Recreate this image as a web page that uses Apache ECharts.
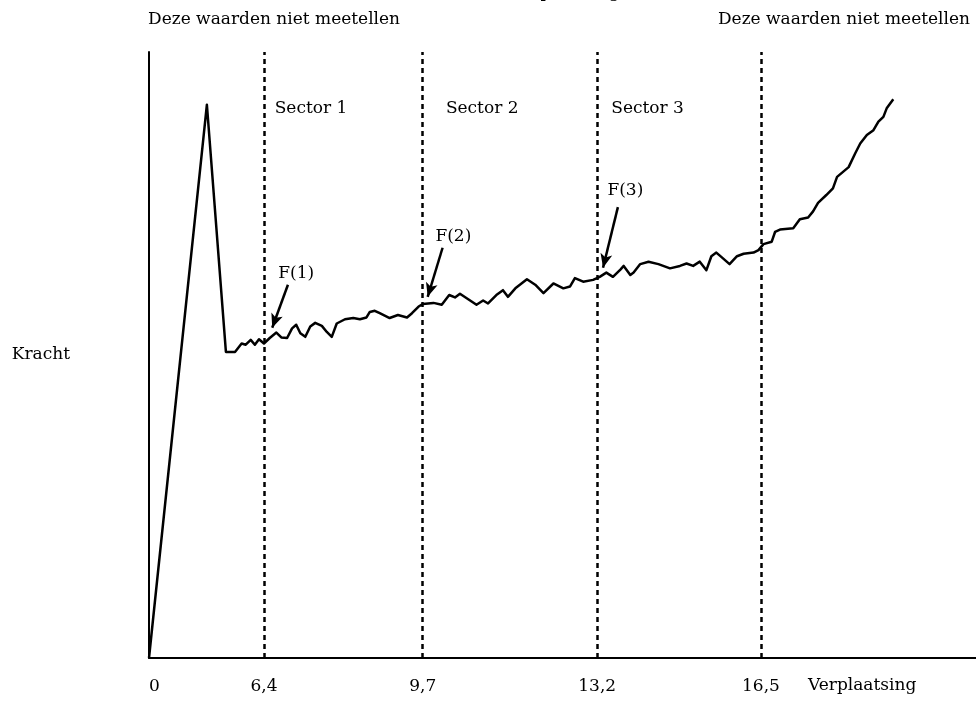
<!DOCTYPE html>
<html>
<head>
<meta charset="utf-8">
<script src="https://cdn.jsdelivr.net/npm/echarts@6/dist/echarts.min.js"></script>
<style>
  html, body { margin: 0; padding: 0; background: #fff; }
  #chart { width: 976px; height: 701px; }
</style>
</head>
<body>
<div id="chart"></div>
<script>
// schematic units: x 0..100 (not to scale), y 0..100
const dispX = [0, 7.0, 9.3, 10.4, 11.2, 11.7, 12.3, 12.8, 13.3, 13.9, 14.6, 15.4, 16.0, 16.7, 17.3, 17.8, 18.3, 18.9, 19.5, 20.1,
  20.9, 21.5, 22.1, 22.7, 23.7, 24.7, 25.5, 26.3, 26.7, 27.3, 27.9, 29.1, 30.1, 31.2, 31.8, 32.6, 33.1, 34.4, 35.4, 36.3,
  37.0, 37.6, 38.6, 39.6, 40.4, 41.0, 42.0, 42.8, 43.4, 44.3, 45.7, 46.7, 47.7, 48.9, 50.1, 50.9, 51.5, 52.5, 53.7, 54.5,
  55.3, 56.1, 57.0, 57.4, 58.2, 58.6, 59.4, 60.4, 61.6, 63.0, 64.2, 65.0, 65.8, 66.6, 67.4, 68.0, 68.6, 69.2, 70.2, 71.1,
  71.9, 73.1, 73.7, 74.3, 75.3, 75.7, 76.3, 77.9, 78.7, 79.7, 80.3, 80.9, 81.9, 82.7, 83.2, 84.6, 85.4, 86.0, 86.8, 87.6,
  88.2, 88.8, 89.2, 90.0];
const kracht = [0, 91.3, 50.5, 50.5, 51.9, 51.7, 52.5, 51.7, 52.6, 51.9, 52.8, 53.7, 52.9, 52.8, 54.4, 55.0, 53.6, 53.0, 54.7, 55.3,
  54.8, 53.8, 53.0, 55.2, 55.9, 56.1, 55.9, 56.2, 57.1, 57.3, 56.9, 56.1, 56.6, 56.2, 56.9, 58.0, 58.4, 58.6, 58.3, 59.9,
  59.5, 60.1, 59.2, 58.3, 59.0, 58.5, 59.9, 60.7, 59.6, 61.0, 62.5, 61.6, 60.2, 61.8, 61.0, 61.3, 62.7, 62.1, 62.4, 62.9,
  63.6, 62.9, 64.1, 64.7, 63.2, 63.6, 65.0, 65.4, 65.0, 64.3, 64.7, 65.1, 64.7, 65.4, 64.0, 66.3, 66.9, 66.2, 65.0, 66.3,
  66.7, 66.9, 67.3, 68.3, 68.7, 70.3, 70.7, 70.9, 72.4, 72.7, 73.7, 75.1, 76.4, 77.5, 79.4, 81.0, 83.3, 84.9, 86.3, 87.1,
  88.5, 89.3, 90.7, 92.2];

const tickPos = [0, 13.9, 33.1, 54.2, 74.0];
const tickLabels = ['0', '6,4', '9,7', '13,2', '16,5'];
const sectorLines = [13.9, 33.1, 54.2, 74.0];
const sectorNames = ['Sector 1', 'Sector 2', 'Sector 3'];
const sectorLabelAt = [[15.2, 90.6], [35.9, 90.6], [55.9, 90.6]];
const forceNames = ['F(1)', 'F(2)', 'F(3)'];
const forceLabelAt = [[17.8, 63.5], [36.8, 69.6], [57.6, 77.1]];
const arrowFrom = [[16.8, 61.6], [35.5, 67.7], [56.7, 74.4]];
const arrowTo = [[14.9, 54.5], [33.7, 59.6], [54.9, 64.4]];

const FONT = 'DejaVu Serif';
const chart = echarts.init(document.getElementById('chart'));

const textLabel = {
  show: true,
  formatter: '{b}',
  fontFamily: FONT,
  fontSize: 17,
  color: '#000',
};

chart.setOption({
  animation: false,
  backgroundColor: '#fff',
  textStyle: { fontFamily: FONT, color: '#000' },
  grid: { left: 149, right: 0, top: 52, bottom: 43 },
  xAxis: {
    type: 'value',
    min: 0,
    max: 100,
    axisLine: { show: true, lineStyle: { color: '#000', width: 2 } },
    axisTick: { show: false },
    splitLine: { show: false },
    axisLabel: {
      customValues: tickPos,
      formatter: (v) => tickLabels[tickPos.indexOf(v)] ?? '',
      margin: 20,
      fontFamily: FONT,
      fontSize: 17,
      color: '#000',
      alignMinLabel: 'left',
    },
  },
  yAxis: {
    type: 'value',
    min: 0,
    max: 100,
    name: 'Kracht',
    nameLocation: 'middle',
    nameRotate: 0,
    nameGap: 79,
    nameTextStyle: { fontFamily: FONT, fontSize: 17, color: '#000' },
    axisLine: { show: true, lineStyle: { color: '#000', width: 2 } },
    axisTick: { show: false },
    axisLabel: { show: false },
    splitLine: { show: false },
  },
  series: [
    {
      type: 'line',
      data: dispX.map((x, i) => [x, kracht[i]]),
      symbol: 'none',
      lineStyle: { color: '#000', width: 2.5, join: 'round' },
      markLine: {
        silent: true,
        symbol: ['none', 'none'],
        label: { show: false },
        lineStyle: { color: '#000', width: 2.5, type: [5, 4] },
        data: sectorLines.map((x) => ({ xAxis: x })),
      },
    },
    {
      // arrows pointing at F(n)
      type: 'line',
      data: [],
      markLine: {
        silent: true,
        symbol: ['none', 'arrow'],
        symbolSize: [9, 14],
        label: { show: false },
        lineStyle: { color: '#000', width: 2.5, type: 'solid' },
        data: arrowFrom.map((p, i) => [{ coord: p }, { coord: arrowTo[i] }]),
      },
    },
    {
      type: 'scatter',
      symbolSize: 0,
      silent: true,
      itemStyle: { opacity: 1 },
      data: sectorLabelAt.map((p, i) => ({ value: p, name: sectorNames[i] })),
      label: { ...textLabel, position: 'right', distance: 0 },
    },
    {
      type: 'scatter',
      symbolSize: 0,
      silent: true,
      itemStyle: { opacity: 1 },
      data: forceLabelAt.map((p, i) => ({ value: p, name: forceNames[i] })),
      label: { ...textLabel, position: 'inside' },
    },
  ],
  graphic: [
    {
      type: 'text',
      left: 148,
      top: 11,
      style: { text: 'Deze waarden niet meetellen', font: '17px "DejaVu Serif"', fill: '#000' },
    },
    {
      type: 'text',
      right: 6,
      top: 11,
      style: { text: 'Deze waarden niet meetellen', font: '17px "DejaVu Serif"', fill: '#000' },
    },
    {
      type: 'text',
      left: 808,
      top: 677,
      style: { text: 'Verplaatsing', font: '17px "DejaVu Serif"', fill: '#000' },
    },
    {
      // title cut off at the top edge, only descenders visible
      type: 'text',
      x: 620,
      y: 1,
      style: {
        text: 'Kracht en verplaatsing',
        font: '17px "DejaVu Serif"',
        fill: '#000',
        align: 'right',
        verticalAlign: 'bottom',
      },
    },
  ],
});
</script>
</body>
</html>
